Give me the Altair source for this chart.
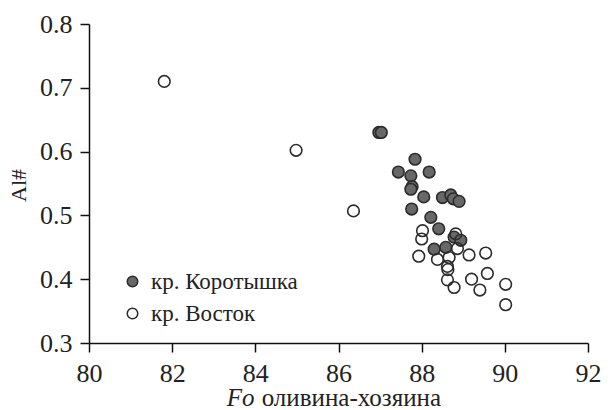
import altair as alt
import pandas as pd

series_names = ["кр. Коротышка", "кр. Восток"]

korot_fo = [86.97, 87.03, 87.84, 87.44, 87.74, 88.18, 87.77, 87.74, 88.05, 88.50,
            88.70, 88.76, 88.90, 87.76, 88.22, 88.41, 88.78, 88.94, 88.30, 88.58]
korot_al = [0.630, 0.630, 0.588, 0.568, 0.562, 0.568, 0.545, 0.541, 0.529, 0.528,
            0.532, 0.526, 0.522, 0.510, 0.497, 0.479, 0.466, 0.461, 0.447, 0.450]

vostok_fo = [81.81, 84.98, 86.36, 88.02, 88.00, 87.93, 88.38, 88.66, 88.86, 88.82,
             89.14, 89.54, 88.62, 88.63, 88.62, 88.78, 89.20, 89.40, 89.58, 90.02, 90.02]
vostok_al = [0.710, 0.602, 0.507, 0.476, 0.463, 0.436, 0.431, 0.434, 0.448, 0.471,
             0.438, 0.441, 0.420, 0.415, 0.399, 0.387, 0.400, 0.383, 0.409, 0.392, 0.360]

x_ticks = [80, 82, 84, 86, 88, 90, 92]
y_ticks = [0.3, 0.4, 0.5, 0.6, 0.7, 0.8]

rows = []
for fo, al in zip(korot_fo, korot_al):
    rows.append({"fo": fo, "al": al, "series": series_names[0]})
for fo, al in zip(vostok_fo, vostok_al):
    rows.append({"fo": fo, "al": al, "series": series_names[1]})
df = pd.DataFrame(rows)

FONT = "Liberation Serif"

points = alt.Chart(df).mark_point(
    filled=True, size=135, stroke="#2b2b2b", strokeWidth=1.6, opacity=1
).encode(
    x=alt.X("fo:Q", scale=alt.Scale(domain=[80, 92], nice=False, zero=False),
            axis=alt.Axis(values=x_ticks, title=None, labelPadding=8, labelFlush=False)),
    y=alt.Y("al:Q", scale=alt.Scale(domain=[0.3, 0.8], nice=False, zero=False),
            axis=alt.Axis(values=y_ticks, format=".1f", title="Al#",
                          labelPadding=8, titleX=-59, titleY=161, labelFlush=False,
                          titleFontWeight="normal", titleFontSize=22)),
    fill=alt.Fill("series:N",
                  scale=alt.Scale(domain=series_names, range=["#686868", "transparent"]),
                  legend=alt.Legend(title=None, orient="none", legendX=32, legendY=246,
                                    padding=0, symbolSize=110, symbolStrokeColor="#2b2b2b",
                                    symbolStrokeWidth=1.5, labelFont=FONT, labelFontSize=23,
                                    labelColor="#222222", rowPadding=8, labelOffset=7,
                                    symbolType="circle")),
    order=alt.Order("order_idx:Q"),
).transform_calculate(order_idx=f"datum.series == '{series_names[0]}' ? 0 : 1")

title_fo = alt.Chart(pd.DataFrame({"t": ["Fo"]})).mark_text(
    align="left", baseline="alphabetic", font=FONT, fontSize=25, fontStyle="italic",
    color="#222222"
).encode(text="t:N", x=alt.value(137.7), y=alt.value(382))

title_rest = alt.Chart(pd.DataFrame({"t": ["оливина-хозяина"]})).mark_text(
    align="left", baseline="alphabetic", font=FONT, fontSize=25, color="#222222"
).encode(text="t:N", x=alt.value(172.7), y=alt.value(382))

chart = alt.layer(points, title_fo, title_rest).properties(
    width=499, height=319,
    autosize=alt.AutoSizeParams(type="none"),
    padding={"left": 81, "top": 16, "right": 17, "bottom": 70},
).configure_view(stroke=None).configure_axis(
    grid=False, domainColor="#111111", tickColor="#111111", domainWidth=1.5,
    tickWidth=1.5, tickSize=9, labelFont=FONT, labelFontSize=26, labelColor="#222222",
    titleFont=FONT, titleColor="#222222"
)

chart.save("out.html", embed_options={"renderer": "svg", "actions": False})
